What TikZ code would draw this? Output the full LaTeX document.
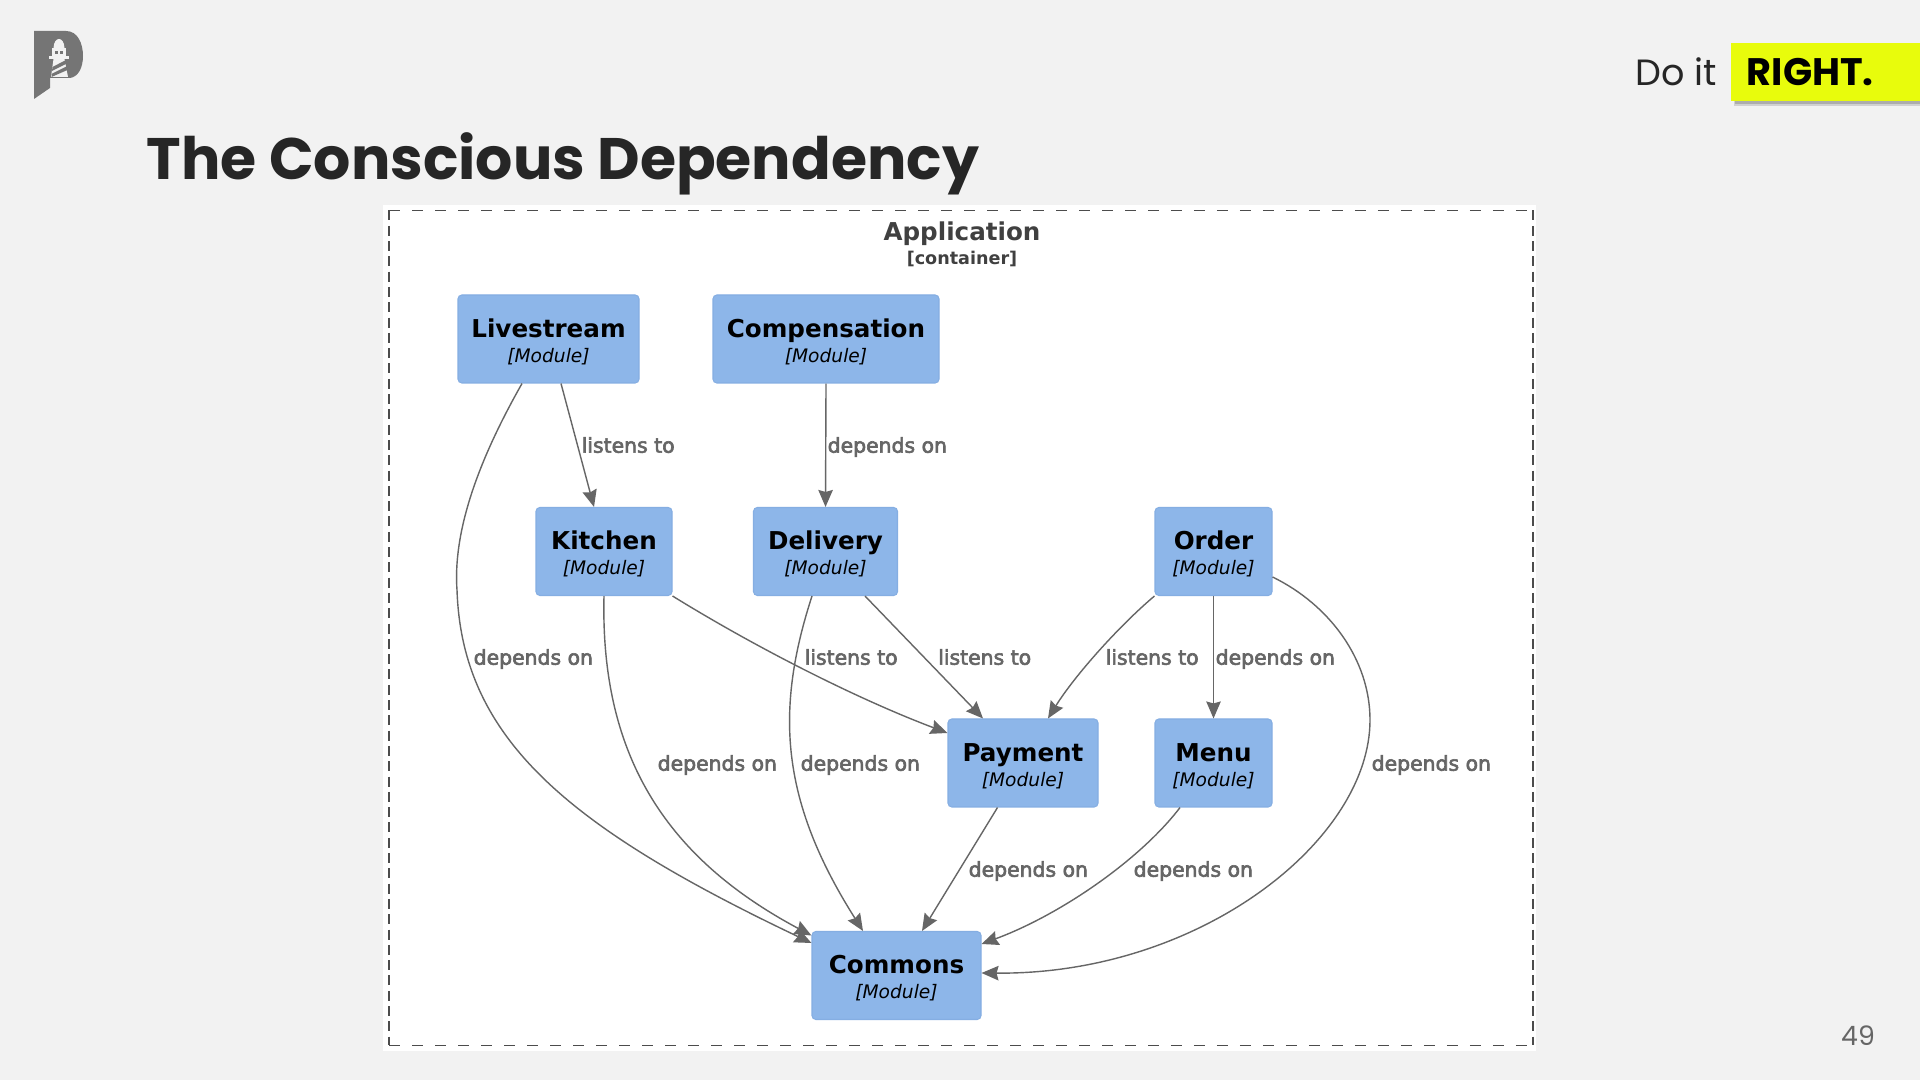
\documentclass[tikz,border=0pt]{standalone}
\usepackage{fontspec}
\setmainfont{DejaVu Sans}
\newfontfamily\slidefont{Poppins}
\newfontfamily\edgefont[RawFeature={embolden=3}]{DejaVu Sans}
\usepackage{xcolor}
\definecolor{SlideBg}{HTML}{F2F2F2}
\definecolor{TitleDark}{HTML}{262626}
\definecolor{LogoGray}{HTML}{757575}
\definecolor{BrandYellow}{HTML}{E8FC0C}
\definecolor{ModuleBlue}{HTML}{8DB6E9}
\definecolor{ModuleEdge}{HTML}{85AEE2}
\definecolor{EdgeGray}{HTML}{666666}
\usetikzlibrary{arrows.meta, positioning}

\begin{document}
\begin{tikzpicture}[
  % base styles
  module/.style={
    draw=ModuleEdge,
    fill=ModuleBlue,
    line width=0.3pt,
    rounded corners=1.1pt,
    minimum height=0.88cm,
    inner sep=0pt,
    align=center,
    font=\fontsize{7}{7.1}\selectfont
  },
  edgelbl/.style={
    anchor=west,
    inner sep=0pt,
    yshift=-0.012cm,
    text height=0.16cm,
    text depth=0.05cm,
    color=EdgeGray,
    font=\edgefont\fontsize{5.8}{6}\selectfont
  },
  dep/.style={
    draw=EdgeGray,
    line width=0.4pt,
    -{Stealth[length=0.17cm, width=0.145cm, inset=0.02cm]}
  },
  frameline/.style={
    draw=black!70,
    line width=0.45pt
  }
]

% =============================================================================
% BACKGROUND
% =============================================================================
\useasboundingbox (0,0) rectangle (19.2,10.8);
\fill[SlideBg] (0,0) rectangle (19.2,10.8);
\fill[white] (3.83,0.29) rectangle (15.36,8.75);

% =============================================================================
% SLIDE HEAD
% =============================================================================
% Logo
\fill[LogoGray] (0.34,10.49) -- (0.66,10.49)
  .. controls (0.78,10.49) and (0.83,10.36) .. (0.83,10.24)
  .. controls (0.83,10.12) and (0.78,10.03) .. (0.70,10.02)
  -- (0.50,10.02) -- (0.50,9.92) -- (0.34,9.81) -- cycle;
\fill[SlideBg] (0.535,10.32) .. controls (0.54,10.44) and (0.64,10.44) .. (0.645,10.32) -- cycle;
\fill[SlideBg] (0.52,10.32) rectangle (0.66,10.24);
\fill[SlideBg] (0.49,10.24) rectangle (0.69,10.21);
\fill[SlideBg] (0.535,10.21) -- (0.645,10.21) -- (0.68,10.03) -- (0.51,10.03) -- cycle;
\fill[LogoGray] (0.55,10.29) rectangle (0.575,10.26);
\fill[LogoGray] (0.60,10.29) rectangle (0.625,10.26);
\fill[LogoGray] (0.525,10.13) -- (0.66,10.20) -- (0.66,10.16) -- (0.52,10.09) -- cycle;
\fill[LogoGray] (0.515,10.06) -- (0.675,10.14) -- (0.675,10.10) -- (0.515,10.03) -- cycle;

\node[anchor=base west, inner sep=0pt, color=TitleDark, font=\slidefont\bfseries\fontsize{16.65}{17}\selectfont] (title) at (1.46,9.0) {The Conscious Dependency};

% Do it RIGHT.
\fill[black!18] (17.34,9.74) rectangle (19.2,9.95);
\fill[black!32] (17.35,9.755) rectangle (19.2,9.95);
\node[fill=BrandYellow, minimum width=1.89cm, minimum height=0.58cm, inner sep=0pt] (rightbox) at (18.255,10.08) {};
\node[anchor=base west, inner sep=0pt, color=black, font=\slidefont\bfseries\fontsize{10.9}{11}\selectfont] (right) at (17.46,9.94) {RIGHT.};
\node[anchor=base west, inner sep=0pt, color=TitleDark, font=\slidefont\fontsize{10.4}{11}\selectfont] (doit) at (16.345,9.94) {Do it};

\node[inner sep=0pt, color=EdgeGray, font=\slidefont\fontsize{7.6}{8}\selectfont] (pagenum) at (18.58,0.44) {49};

% =============================================================================
% APPLICATION FRAME
% =============================================================================
\coordinate (nw) at (3.89,8.695);
\coordinate (ne) at (15.33,8.695);
\coordinate (sw) at (3.89,0.345);
\coordinate (se) at (15.33,0.345);
\draw[frameline, dash pattern=on 0.11cm off 0.12cm] (nw) -- (ne);
\draw[frameline, dash pattern=on 0.11cm off 0.12cm] (sw) -- (se);
\draw[frameline, dash pattern=on 0.10cm off 0.053cm] (nw) -- (sw);
\draw[frameline, dash pattern=on 0.10cm off 0.053cm] (ne) -- (se);

\node[inner sep=0pt, color=black!75, font=\bfseries\fontsize{7}{8}\selectfont] (apptitle) at (9.62,8.46) {Application};
\node[inner sep=0pt, color=black!75, font=\bfseries\fontsize{5}{6}\selectfont] (appkind) at (9.62,8.215) {[container]};

% =============================================================================
% MODULES
% =============================================================================
\foreach \id/\lbl/\x/\y/\w in {livestream/Livestream/5.485/7.41/1.81,
    compensation/Compensation/8.26/7.41/2.26,
    kitchen/Kitchen/6.04/5.285/1.36,
    delivery/Delivery/8.255/5.285/1.44,
    order/Order/12.135/5.285/1.17,
    payment/Payment/10.23/3.17/1.50,
    menu/Menu/12.135/3.17/1.17,
    commons/Commons/8.965/1.045/1.69} {
  \node[module, minimum width=\w cm] (\id) at (\x,\y) {\rule{0pt}{6.9pt}{\bfseries \lbl}\\{\itshape\fontsize{5.3}{7.1}\selectfont [Module]}};
}

% =============================================================================
% DEPENDENCIES
% =============================================================================
\draw[dep] ([xshift=0.125cm]livestream.south) -- ([xshift=-0.10cm]kitchen.north);
\draw[dep] (compensation.south) -- (delivery.north);
\draw[dep] ([xshift=-0.265cm]livestream.south)
  .. controls (4.90,6.40) and (4.52,5.60) .. (4.57,4.90)
  .. controls (4.62,3.40) and (5.70,2.52) .. ([yshift=0.325cm]commons.west);
\draw[dep] (kitchen.south) .. controls (6.00,3.20) and (6.70,2.20) .. ([yshift=0.40cm]commons.west);
\draw[dep] (kitchen.south east) .. controls (7.60,4.30) and (8.60,3.80) .. ([yshift=0.30cm]payment.west);
\draw[dep] ([xshift=-0.135cm]delivery.south) .. controls (7.75,3.70) and (7.80,2.80) .. ([xshift=-0.335cm]commons.north);
\draw[dep] ([xshift=0.395cm]delivery.south) -- ([xshift=-0.40cm]payment.north);
\draw[dep] (order.south west) .. controls (11.20,4.55) and (10.75,4.05) .. ([xshift=0.25cm]payment.north);
\draw[dep] (order.south) -- (menu.north);
\draw[dep] ([yshift=-0.255cm]order.east)
  .. controls (13.30,4.75) and (13.70,4.20) .. (13.70,3.60)
  .. controls (13.70,2.40) and (12.00,1.05) .. ([yshift=0.025cm]commons.east);
\draw[dep] ([xshift=-0.255cm]payment.south) -- ([xshift=0.255cm]commons.north);
\draw[dep] ([xshift=-0.335cm]menu.south) .. controls (11.40,2.20) and (10.60,1.65) .. ([yshift=0.315cm]commons.east);

% edge labels
\foreach \id/\x/\y in {a/4.73/4.22, b/6.57/3.16, c/8.00/3.16, d/12.15/4.22, e/9.68/2.10, f/11.33/2.10, g/13.71/3.16, h/8.27/6.34} {
  \node[edgelbl] (dep\id) at (\x,\y) {depends on};
}
\foreach \id/\x/\y in {a/5.81/6.34, b/8.04/4.22, c/9.375/4.22, d/11.05/4.22} {
  \node[edgelbl] (lis\id) at (\x,\y) {listens to};
}

\end{tikzpicture}
\end{document}
